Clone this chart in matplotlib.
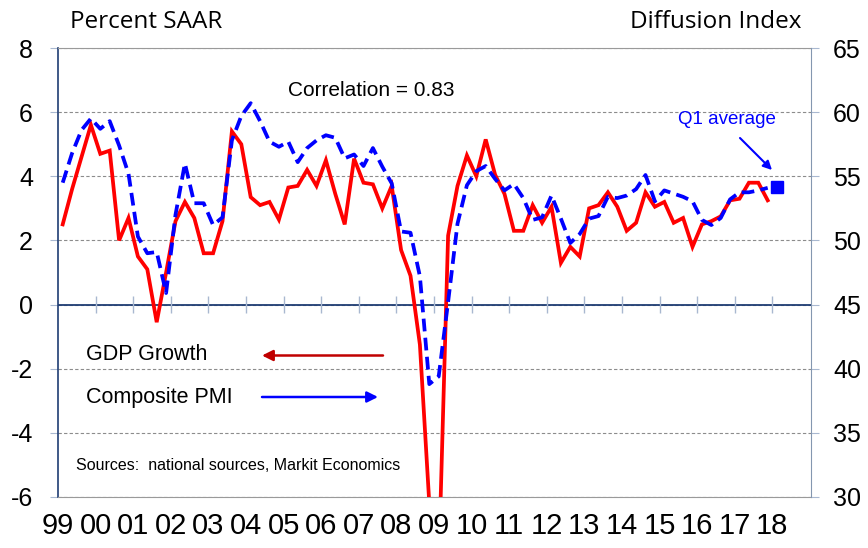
import numpy as np
import matplotlib.pyplot as plt

plt.rcParams['font.family'] = ['Liberation Sans', 'DejaVu Sans']
plt.rcParams['axes.unicode_minus'] = False

# quarterly, 1999Q1 - 2017Q4
gdp_growth = [2.5, 3.6, 4.6, 5.6, 4.7, 4.8, 2.0, 2.7,
              1.5, 1.1, -0.55, 1.0, 2.6, 3.2, 2.7, 1.6,
              1.6, 2.6, 5.4, 5.0, 3.35, 3.1, 3.2, 2.65,
              3.65, 3.7, 4.2, 3.7, 4.5, 3.45, 2.5, 4.55,
              3.8, 3.75, 3.0, 3.7, 1.7, 0.9, -1.25, -6.2,
              -8.2, 2.15, 3.7, 4.65, 4.0, 5.15, 4.05, 3.45,
              2.3, 2.3, 3.1, 2.55, 3.05, 1.3, 1.8, 1.5,
              3.0, 3.1, 3.5, 3.05, 2.3, 2.55, 3.5, 3.05,
              3.2, 2.55, 2.7, 1.8, 2.5, 2.6, 2.75, 3.25,
              3.3, 3.8, 3.8, 3.25]
composite_pmi = [54.5, 56.8, 58.6, 59.5, 58.7, 59.3, 57.4, 55.2,
                 50.3, 49.0, 49.1, 45.9, 52.0, 56.0, 52.9, 52.9,
                 51.2, 51.8, 57.8, 59.7, 60.7, 59.3, 57.7, 57.3,
                 57.7, 56.1, 57.2, 57.8, 58.2, 58.0, 56.4, 56.7,
                 55.8, 57.2, 55.75, 54.45, 50.7, 50.6, 47.2, 38.8,
                 39.4, 45.2, 51.3, 54.3, 55.4, 55.8, 54.8, 53.9,
                 54.4, 53.3, 51.6, 51.8, 53.5, 51.7, 49.8, 50.5,
                 51.7, 51.9, 53.4, 53.3, 53.5, 54.0, 55.1, 53.05,
                 53.9, 53.65, 53.4, 53.05, 51.6, 51.2, 51.75, 53.2,
                 53.75, 53.75, 53.9, 54.1]
pmi_q1_2018 = 54.2
years = list(range(1999, 2019))
year_labels = ["%02d" % (y % 100) for y in years]

W, H = 868, 548

def fx(x):
    return x / W

def fy(y):
    return 1 - y / H

# quarter midpoints
qx = 1999.125 + 0.25 * np.arange(len(gdp_growth))
q1_x = 1999.125 + 0.25 * len(gdp_growth)

fig = plt.figure(figsize=(W / 100, H / 100), dpi=100)
ax = fig.add_axes([fx(58), fy(497), 753 / W, 449 / H])
ax2 = ax.twinx()

tick_col = '#a9b8d0'

# left axis: GDP
ax.plot(qx, gdp_growth, color='#ff0000', lw=2.7, solid_joinstyle='miter', zorder=3)
ax.set_ylim(-6, 8)
ax.set_yticks(range(-6, 9, 2))
ax.set_xlim(1999, 1999 + 753 / 37.6)
ax.set_xticks(years)
ax.set_xticklabels(year_labels, fontsize=21, family=['Liberation Sans Narrow', 'Liberation Sans'])
ax.tick_params(axis='x', length=0, pad=11)
ax.tick_params(axis='y', direction='out', length=6, color=tick_col, labelsize=18, pad=12)
ax.yaxis.grid(True, ls=(0, (3, 2)), color='#8c8c8c', lw=0.8)
ax.axhline(0, color='#1f3d73', lw=1.3, zorder=2)
ax.vlines(years[1:], -0.26, 0.26, color=tick_col, lw=1, zorder=2)

for s in ['top', 'bottom']:
    ax.spines[s].set_color('#9a9a9a')
ax.spines['left'].set_color('#1f3d73')
ax.spines['left'].set_linewidth(1.2)
ax.spines['right'].set_visible(False)

# right axis: PMI
ax2.plot(qx, composite_pmi, color='#0000ff', lw=2.7, ls=(0, (3.4, 1.7)), zorder=4)
ax2.plot([q1_x], [pmi_q1_2018], marker='s', ms=8.5, color='#0000ff', ls='none')
ax2.set_ylim(30, 65)
ax2.set_yticks(range(30, 66, 5))
ax2.tick_params(axis='y', direction='out', length=6, color=tick_col, labelsize=18, pad=10)
for s in ['top', 'bottom', 'left']:
    ax2.spines[s].set_visible(False)
ax2.spines['right'].set_color('#8497b0')

# texts
title_font = ['Open Sans', 'Liberation Sans']
fig.text(fx(70), fy(22), 'Percent SAAR', fontsize=17.5, family=title_font, va='center', ha='left')
fig.text(fx(801), fy(22), 'Diffusion Index', fontsize=17.5, family=title_font, va='center', ha='right')
fig.text(fx(288), fy(91), 'Correlation = 0.83', fontsize=15, va='center', ha='left')
fig.text(fx(678), fy(119), 'Q1 average', fontsize=13.5, color='#0000ff', va='center', ha='left')
fig.text(fx(86), fy(355), 'GDP Growth', fontsize=15.5, va='center', ha='left')
fig.text(fx(86), fy(397), 'Composite PMI', fontsize=15.5, va='center', ha='left')
fig.text(fx(76), fy(465), 'Sources:  national sources, Markit Economics', fontsize=11.5, va='center', ha='left')

# arrows
ax.annotate('', xy=(fx(262), fy(355.5)), xytext=(fx(383), fy(355.5)), xycoords='figure fraction',
            arrowprops=dict(arrowstyle='-|>', color='#c00000', lw=1.8, mutation_scale=16, shrinkA=0, shrinkB=0))
ax.annotate('', xy=(fx(378), fy(397)), xytext=(fx(262), fy(397)), xycoords='figure fraction',
            arrowprops=dict(arrowstyle='-|>', color='#0000ff', lw=1.8, mutation_scale=16, shrinkA=0, shrinkB=0))
ax.annotate('', xy=(fx(772), fy(170)), xytext=(fx(740), fy(138)), xycoords='figure fraction',
            arrowprops=dict(arrowstyle='-|>', color='#0000ff', lw=1.5, mutation_scale=13, shrinkA=0, shrinkB=0))

fig.savefig('out.png', dpi=100)
